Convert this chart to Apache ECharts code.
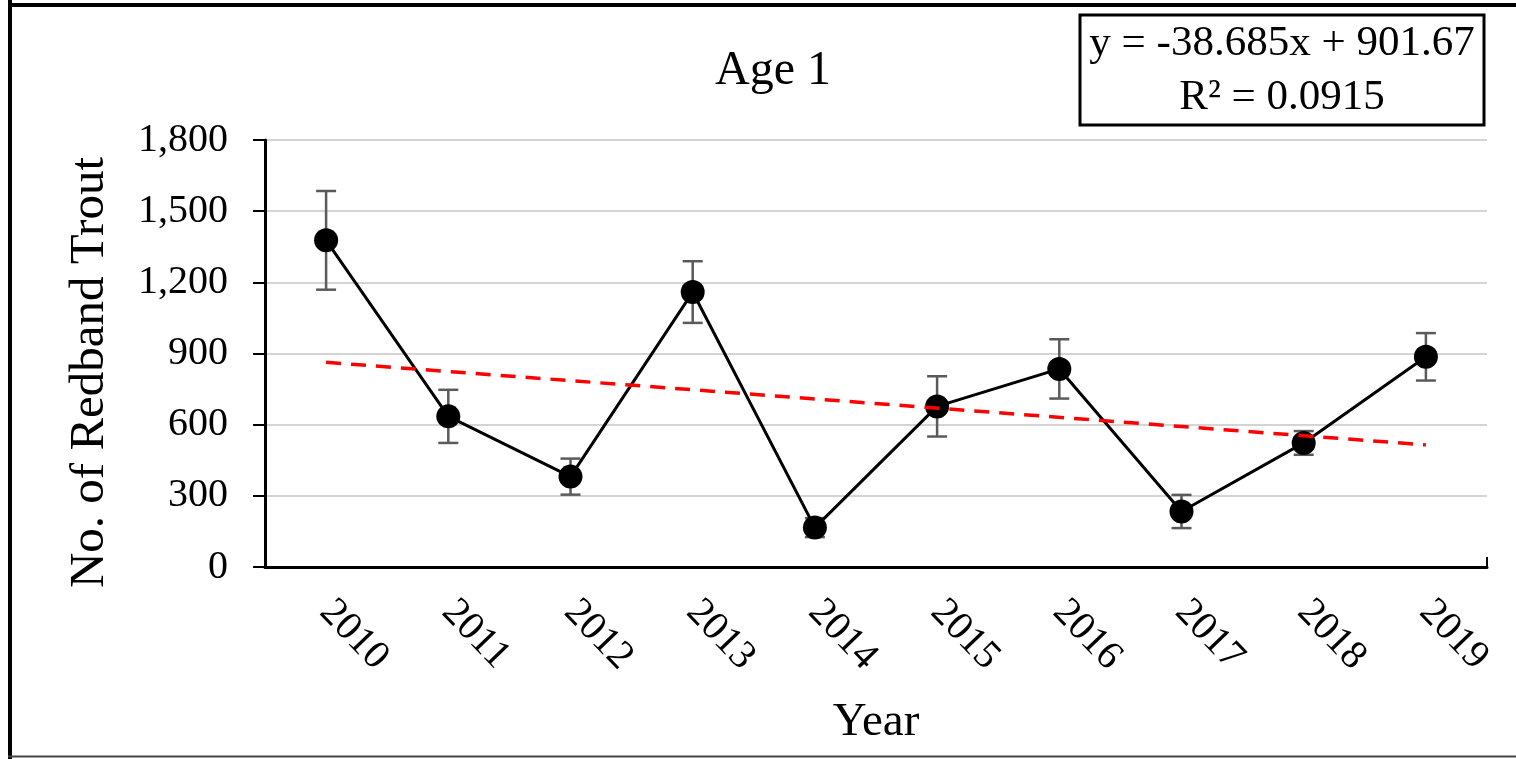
<!DOCTYPE html>
<html><head><meta charset="utf-8">
<script src="https://cdn.jsdelivr.net/npm/echarts@6/dist/echarts.min.js"></script>
<style>html,body{margin:0;padding:0;background:#fff}#c{width:1516px;height:759px}</style>
</head><body><div id="c"></div>
<script>
// ---- data ----
const years = ['2010','2011','2012','2013','2014','2015','2016','2017','2018','2019'];
const counts = [1377, 635, 381, 1159, 166, 677, 835, 234, 523, 886];
const errors = [208, 112, 76, 130, 40, 127, 125, 70, 50, 100];
const yAxisMin = 0, yAxisMax = 1800, yAxisStep = 300;
// linear trend endpoints (from y = -38.685x + 901.67 at x = 1 and x = 10)
const trendPoints = [['2010', 862.99], ['2019', 514.82]];
const titleText = 'Age 1';
const xName = 'Year';
const yName = 'No. of Redband Trout';
const equationText = 'y = -38.685x + 901.67';
const r2Text = 'R\u00B2 = 0.0915';

const FONT = "'Liberation Serif','Times New Roman',serif";
const errData = years.map((y, i) => [i, counts[i] - errors[i], counts[i] + errors[i]]);

const chart = echarts.init(document.getElementById('c'), null, {renderer: 'canvas'});
chart.setOption({
  animation: false,
  backgroundColor: '#fff',
  title: {
    text: titleText, left: 768, top: 42, textAlign: 'center',
    textStyle: {fontFamily: FONT, fontSize: 48, fontWeight: 'normal', color: '#000'}
  },
  grid: {left: 265, right: 29, top: 140, bottom: 192, containLabel: false},
  xAxis: {
    type: 'category', data: years, boundaryGap: true,
    name: xName, nameLocation: 'middle', nameGap: 132,
    nameTextStyle: {fontFamily: FONT, fontSize: 47, color: '#000'},
    axisLine: {lineStyle: {color: '#000', width: 3}},
    axisTick: {alignWithLabel: true, inside: true, length: 10, lineStyle: {color: '#000', width: 2}},
    axisLabel: {rotate: -46, margin: 39, fontFamily: FONT, fontSize: 40, color: '#000'},
    splitLine: {show: false}
  },
  yAxis: {
    type: 'value', min: yAxisMin, max: yAxisMax, interval: yAxisStep,
    name: yName, nameLocation: 'middle', nameGap: 150, nameRotate: 90,
    nameTextStyle: {fontFamily: FONT, fontSize: 49, color: '#000', padding: [0, 38, 0, 0]},
    axisLine: {show: true, lineStyle: {color: '#000', width: 3}},
    axisTick: {show: true, length: 12, lineStyle: {color: '#000', width: 2}},
    axisLabel: {margin: 37, fontFamily: FONT, fontSize: 40, color: '#000',
      formatter: v => v.toLocaleString('en-US')},
    splitLine: {lineStyle: {color: '#d4d4d4', width: 2}}
  },
  graphic: [
    {type: 'line', shape: {x1: 10, y1: 0, x2: 10, y2: 759}, style: {stroke: '#000', lineWidth: 4}},
    {type: 'line', shape: {x1: 8, y1: 5, x2: 1516, y2: 5}, style: {stroke: '#000', lineWidth: 4}},
    {type: 'line', shape: {x1: 8, y1: 756.5, x2: 1516, y2: 756.5}, style: {stroke: '#444', lineWidth: 2}},
    {type: 'line', shape: {x1: 1487, y1: 557, x2: 1487, y2: 567}, style: {stroke: '#000', lineWidth: 2}},
    {type: 'rect', shape: {x: 1080, y: 15, width: 404, height: 110},
      style: {fill: '#fff', stroke: '#000', lineWidth: 3}, z: 10},
    {type: 'text', x: 1282, y: 44, z: 11,
      style: {text: equationText, fontFamily: FONT, fontSize: 43, fill: '#000', align: 'center', verticalAlign: 'middle'}},
    {type: 'text', x: 1282, y: 98, z: 11,
      style: {text: r2Text, fontFamily: FONT, fontSize: 43, fill: '#000', align: 'center', verticalAlign: 'middle'}}
  ],
  series: [
    {
      type: 'custom', name: 'error', data: errData, z: 2,
      renderItem: function (params, api) {
        const x = api.value(0);
        const lo = api.coord([x, api.value(1)]);
        const hi = api.coord([x, api.value(2)]);
        const w = 10;
        const st = {stroke: '#5a5a5a', lineWidth: 2.5};
        return {type: 'group', children: [
          {type: 'line', shape: {x1: lo[0], y1: lo[1], x2: hi[0], y2: hi[1]}, style: st},
          {type: 'line', shape: {x1: lo[0] - w, y1: lo[1], x2: lo[0] + w, y2: lo[1]}, style: st},
          {type: 'line', shape: {x1: hi[0] - w, y1: hi[1], x2: hi[0] + w, y2: hi[1]}, style: st}
        ]};
      }
    },
    {
      type: 'line', name: 'Age 1', data: counts, z: 3,
      symbol: 'circle', symbolSize: 24,
      lineStyle: {color: '#000', width: 3},
      itemStyle: {color: '#000'}
    },
    {
      type: 'line', name: 'Linear trend', data: trendPoints, z: 4,
      symbol: 'none',
      lineStyle: {color: '#ff0000', width: 3.5, type: [15, 10]}
    }
  ]
});
</script></body></html>
